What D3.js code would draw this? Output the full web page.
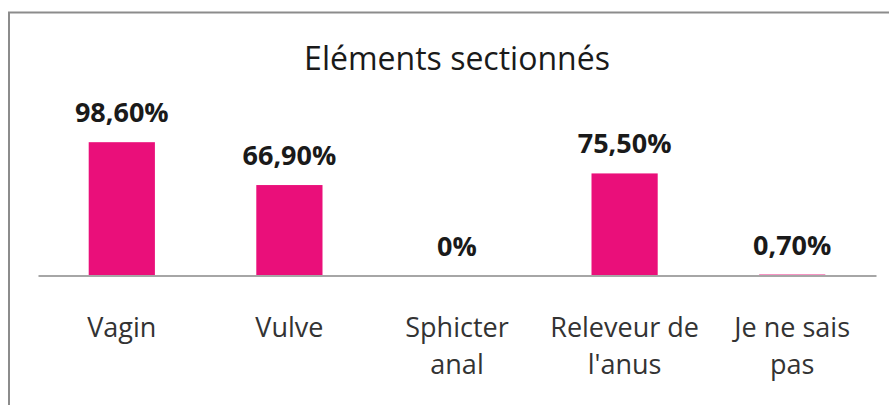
<!DOCTYPE html>
<html>
<head>
<meta charset="utf-8">
<script src="https://cdn.jsdelivr.net/npm/d3@7"></script>
<style>
  body { margin: 0; background: #fff; }
  svg { display: block; }
</style>
</head>
<body>
<div id="chart"></div>
<script>
const title = "Eléments sectionnés"
const categories = ["Vagin", "Vulve", "Sphicter anal", "Releveur de l'anus", "Je ne sais pas"]
const tickLines = [["Vagin"], ["Vulve"], ["Sphicter", "anal"], ["Releveur de", "l'anus"], ["Je ne sais", "pas"]]
const values = [98.6, 66.9, 0, 75.5, 0.7]

const svg = d3.select("#chart").append("svg")
	.attr("width", 889)
	.attr("height", 405)

// frame around the chart (runs past the photo edges)
svg.append("rect")
	.attr("x", 9).attr("y", 12.5)
	.attr("width", 900).attr("height", 420)
	.style("fill", "none")
	.style("stroke", "#8c8c8c")
	.style("stroke-width", 2)

const xs = d3.scaleBand().domain(categories).range([38, 876]).paddingInner(0.605).paddingOuter(0.3025)
const ys = d3.scaleLinear().domain([0, 100]).range([275.5, 140.3])

svg.append("text")
	.attr("x", 457).attr("y", 70)
	.attr("text-anchor", "middle")
	.style("font-family", "'Open Sans', sans-serif")
	.style("font-size", "32px")
	.style("fill", "#1a1a1a")
	.text(title)

svg.append("g").selectAll("rect")
	.data(values).enter().append("rect")
		.attr("x", (d, i) => xs(categories[i]))
		.attr("width", xs.bandwidth())
		.attr("y", d => ys(d))
		.attr("height", d => ys(0) - ys(d))
		.style("fill", "#ea0f7a")

const axis = svg.append("g")
	.attr("transform", "translate(0," + ys(0) + ")")
	.call(d3.axisBottom(xs).tickSize(0).tickPadding(0))

axis.select(".domain").attr("stroke", "#a6a6a6").attr("stroke-width", 2)

axis.selectAll(".tick text")
	.style("font-family", "'Open Sans', sans-serif")
	.style("font-size", "27px")
	.style("fill", "#333")
	.attr("dy", null)
	.attr("y", 0)
	.text(null)
	.each(function(d) {
		const lines = tickLines[categories.indexOf(d)]
		const t = d3.select(this)
		lines.forEach((l, j) => {
			t.append("tspan").attr("x", 0).attr("y", 61.5 + j * 37).text(l)
		})
	})

svg.append("g").selectAll("text")
	.data(values).enter().append("text")
		.attr("x", (d, i) => xs(categories[i]) + xs.bandwidth() / 2)
		.attr("y", d => ys(d) - 20)
		.attr("text-anchor", "middle")
		.style("font-family", "'Open Sans', sans-serif")
		.style("font-weight", "bold")
		.style("font-size", "27px")
		.style("fill", "#1a1a1a")
		.text(d => d === 0 ? "0%" : d.toFixed(2).replace(".", ",") + "%")
</script>
</body>
</html>
